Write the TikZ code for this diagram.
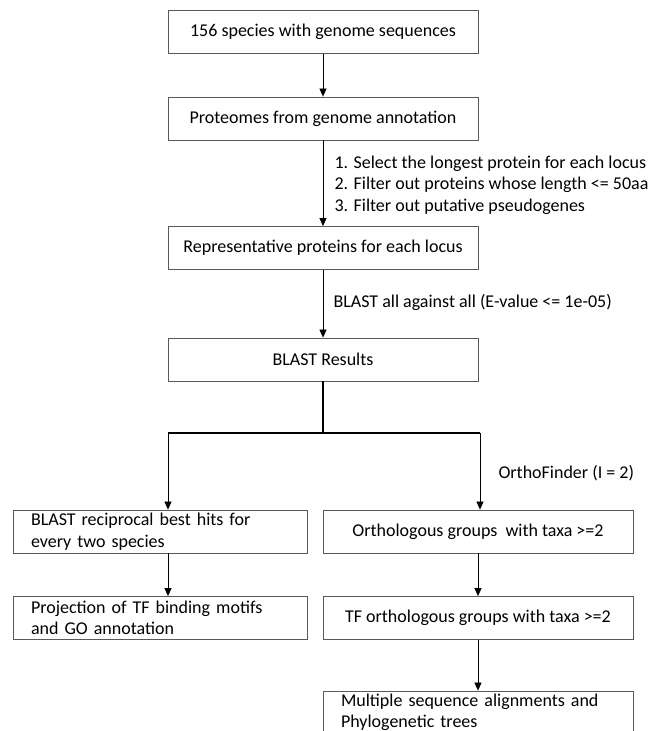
\documentclass[tikz,border=0pt]{standalone}
\usepackage{fontspec}
\setmainfont{Carlito}
\usetikzlibrary{arrows.meta}

\tikzset{
  stepbox/.style={draw=black!65, line width=0.8pt, minimum width=310pt, minimum height=43pt, inner sep=0pt},
  leftbox/.style={stepbox, minimum width=294pt, text width=258pt, align=left},
  flow/.style={-{Triangle[width=7pt,length=8pt]}, line width=0.7pt},
  trunk/.style={line width=1.6pt},
}

\begin{document}
\begin{tikzpicture}[x=1pt,y=-1pt, font=\fontsize{18}{21.5}\selectfont, text=black]
\useasboundingbox (0,0) rectangle (651,731);

% main stack
\node[stepbox] (genomes) at (323,32) {156 species with genome sequences};
\node[stepbox] (proteomes) at (323,118.5) {Proteomes from genome annotation};
\node[stepbox] (reps) at (323,248) {Representative proteins for each locus};
\node[stepbox] (blast) at (323,359.5) {BLAST Results};

\draw [flow] (genomes) -- (proteomes);
\draw [flow] (proteomes) -- (reps);
\draw [flow] (reps) -- (blast);

\node [anchor=west, align=left] (filters) at (331,185) {1. Select the longest protein for each locus\\2. Filter out proteins whose length <= 50aa\\3. Filter out putative pseudogenes};
\node [anchor=west] (allvsall) at (330,302) {BLAST all against all (E-value <= 1e-05)};

% split
\coordinate (split) at (323,433);
\coordinate (barL) at (168,433);
\coordinate (barR) at (480,433);
\draw [trunk] (blast.south) -- (split);
\draw [trunk] (barL) -- (barR);

% left branch
\node[leftbox] (rbh) at (160,531.5) {BLAST reciprocal best hits for\\every two species};
\node[leftbox] (motifs) at (160,618) {Projection of TF binding motifs\\and GO annotation};
\draw [flow] (barL) -- (barL |- rbh.north);
\draw [flow] (rbh.south -| barL) -- (motifs.north -| barL);

% right branch
\node[stepbox] (og) at (478,531.5) {Orthologous groups\ \ with taxa >=2};
\node[stepbox] (tfog) at (478,618) {TF orthologous groups with taxa >=2};
\node[stepbox, text width=274pt, align=left] (msa) at (478,712.5) {Multiple sequence alignments and\\Phylogenetic trees};
\draw [flow] (barR) -- (barR |- og.north);
\draw [flow] (og) -- (tfog);
\draw [flow] (tfog) -- (msa);
\node [anchor=west] (ortho) at (495,473) {OrthoFinder (I = 2)};

\end{tikzpicture}
\end{document}
